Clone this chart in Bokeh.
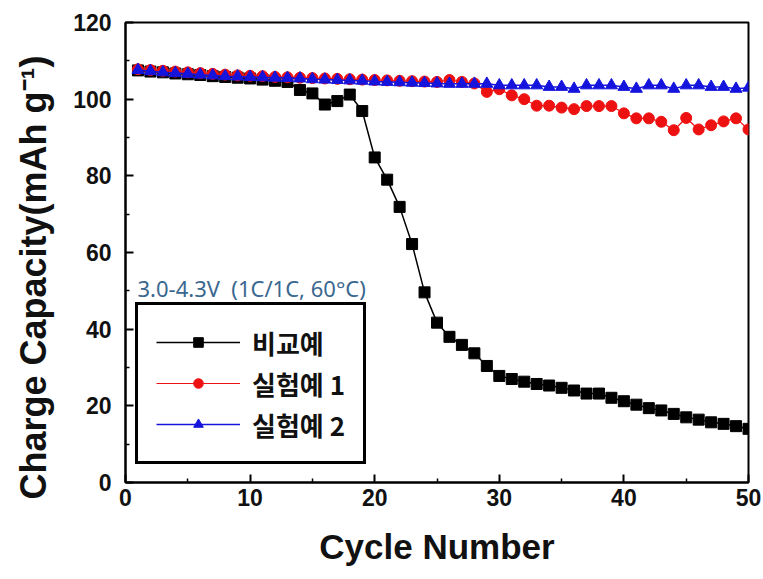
import math
from bokeh.plotting import figure
from bokeh.models import Range1d, FixedTicker, Legend, LegendItem, Label
from bokeh.embed import file_html
from bokeh.resources import INLINE

# ---------------- data ----------------
cycles = list(range(1, 51))

comparative = [107.5, 107.2, 107.0, 106.7, 106.5, 106.3, 106.0, 105.8, 105.6, 105.4,
               105.1, 104.8, 104.5, 102.4, 101.5, 98.6, 99.5, 101.2, 96.9, 84.8,
               79.0, 71.9, 62.2, 49.6, 41.7, 38.0, 35.9, 33.7, 30.4, 27.8,
               27.0, 26.3, 25.7, 25.3, 24.7, 24.0, 23.2, 23.2, 22.1, 21.2,
               20.3, 19.4, 18.8, 17.9, 17.0, 16.4, 15.7, 15.3, 14.7, 14.0]

example1 = [107.8, 107.6, 107.4, 107.2, 107.0, 106.8, 106.6, 106.4, 106.2, 106.1,
            106.0, 105.8, 105.7, 105.6, 105.5, 105.4, 105.3, 105.2, 105.1, 105.0,
            104.9, 104.8, 104.7, 104.6, 104.5, 105.0, 104.5, 104.1, 101.9, 102.6,
            101.0, 100.0, 98.3, 98.3, 97.8, 97.4, 98.2, 98.2, 98.2, 96.3,
            95.0, 95.0, 94.1, 91.9, 95.1, 92.1, 93.2, 94.2, 95.0, 92.1]

example2 = [107.6, 107.3, 107.0, 106.8, 106.6, 106.4, 106.2, 106.0, 105.9, 105.8,
            105.7, 105.6, 105.5, 105.4, 105.2, 105.1, 105.0, 104.9, 104.8, 104.6,
            104.5, 104.4, 104.3, 104.2, 104.1, 104.0, 104.0, 104.0, 104.0, 103.6,
            103.6, 103.6, 103.6, 103.2, 103.2, 102.7, 103.6, 103.6, 103.6, 103.2,
            102.7, 103.6, 103.6, 102.7, 103.6, 103.6, 103.2, 103.2, 102.7, 103.0]

series_names = ["비교예", "실험예 1", "실험예 2"]
x_ticks = [0, 10, 20, 30, 40, 50]
x_minor = [5, 15, 25, 35, 45]
y_ticks = [0, 20, 40, 60, 80, 100, 120]
y_minor = [10, 30, 50, 70, 90, 110]
x_title = "Cycle Number"
# trailing no-break spaces push the visible title down, as in the reference
y_title = "Charge Capacity(mAh g\u207b\u00b9)" + "\u00a0" * 5
condition_text = "3.0-4.3V\u00a0 (1C/1C, 60\u00b0C)"

# ---------------- figure ----------------
p = figure(width=763, height=579, output_backend="svg", toolbar_location=None,
           x_range=Range1d(0, 50), y_range=Range1d(0, 120),
           min_border_left=125, min_border_right=15,
           min_border_top=22, min_border_bottom=97)
p.grid.visible = False
p.background_fill_color = "white"
p.border_fill_color = "white"
p.outline_line_color = "black"
p.outline_line_width = 2

TICK_FONT = "Liberation Sans"
for ax, ticks, minor in ((p.xaxis[0], x_ticks, x_minor), (p.yaxis[0], y_ticks, y_minor)):
    ax.ticker = FixedTicker(ticks=ticks, minor_ticks=minor)
    ax.axis_line_width = 2
    ax.major_tick_in = 8
    ax.major_tick_out = 0
    ax.minor_tick_in = 4
    ax.minor_tick_out = 0
    ax.major_tick_line_width = 2
    ax.minor_tick_line_width = 1.5
    ax.major_label_text_font = TICK_FONT
    ax.major_label_text_font_style = "bold"
    ax.major_label_text_font_size = "23px"
    ax.major_label_text_color = "#111111"
    ax.axis_label_text_font = TICK_FONT
    ax.axis_label_text_font_style = "bold"
    ax.axis_label_text_color = "#111111"

p.xaxis.major_label_standoff = 6
p.yaxis.major_label_standoff = 14
p.xaxis.axis_label = x_title
p.xaxis.axis_label_text_font_size = "35px"
p.xaxis.axis_label_standoff = 18
p.yaxis.axis_label = y_title
p.yaxis.axis_label_text_font_size = "36px"
p.yaxis.axis_label_standoff = 16

# ---------------- series ----------------
l0 = p.line(cycles, comparative, line_color="black", line_width=1.5)
s0 = p.scatter(cycles, comparative, marker="square", size=11, fill_color="black", line_color="black")
l1 = p.line(cycles, example1, line_color="#EE1111", line_width=1.2)
s1 = p.scatter(cycles, example1, marker="circle", size=11, fill_color="#EE1111", line_color="#EE1111")
l2 = p.line(cycles, example2, line_color="#1414DD", line_width=1.5)
s2 = p.scatter(cycles, example2, marker="triangle", size=12, fill_color="#1414DD", line_color="#1414DD")

# condition annotation
p.add_layout(Label(x=12, y=195, x_units="screen", y_units="screen", text=condition_text,
                   text_align="left", text_baseline="alphabetic",
                   text_font="Noto Sans", text_font_size="22px", text_color="#3A6890"))

legend = Legend(items=[LegendItem(label=series_names[0], renderers=[l0, s0]),
                       LegendItem(label=series_names[1], renderers=[l1, s1]),
                       LegendItem(label=series_names[2], renderers=[l2, s2])],
                location=(10, 18), margin=0, padding=18, spacing=3,
                glyph_width=84, glyph_height=24, label_height=38, label_standoff=12,
                label_text_font="Noto Sans CJK KR", label_text_font_style="bold",
                label_text_font_size="26px", label_text_color="#111111",
                border_line_color="black", border_line_width=3, border_line_alpha=1,
                background_fill_color="white", background_fill_alpha=1)
p.add_layout(legend)

open("out.html", "w").write(file_html(p, INLINE))
